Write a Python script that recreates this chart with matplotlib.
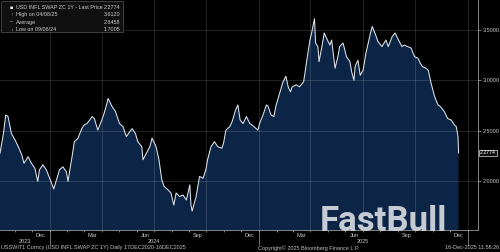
import numpy as np
import pandas as pd
import matplotlib
matplotlib.use('Agg')
import matplotlib.pyplot as plt
import matplotlib.dates as mdates
from matplotlib.transforms import blended_transform_factory

plt.rcParams['font.family'] = ['Liberation Sans', 'DejaVu Sans']

# USD inflation swap zero-coupon 1Y
dates = ['2023-10-06', '2023-10-12', '2023-10-16', '2023-10-20', '2023-10-26', '2023-11-01',
         '2023-11-07', '2023-11-13', '2023-11-17', '2023-11-24', '2023-11-30', '2023-12-06',
         '2023-12-11', '2023-12-14', '2023-12-20', '2023-12-26', '2024-01-02', '2024-01-08',
         '2024-01-12', '2024-01-18', '2024-01-24', '2024-01-30', '2024-02-02', '2024-02-06',
         '2024-02-09', '2024-02-13', '2024-02-19', '2024-02-26', '2024-03-01', '2024-03-06',
         '2024-03-11', '2024-03-15', '2024-03-19', '2024-03-25', '2024-04-01', '2024-04-05',
         '2024-04-10', '2024-04-12', '2024-04-19', '2024-04-25', '2024-05-02', '2024-05-08',
         '2024-05-14', '2024-05-20', '2024-05-24', '2024-05-30', '2024-06-03', '2024-06-10',
         '2024-06-12', '2024-06-18', '2024-06-24', '2024-06-28', '2024-07-05', '2024-07-10',
         '2024-07-15', '2024-07-19', '2024-07-26', '2024-07-31', '2024-08-05', '2024-08-09',
         '2024-08-15', '2024-08-21', '2024-08-27', '2024-09-02', '2024-09-04', '2024-09-06',
         '2024-09-13', '2024-09-19', '2024-09-25', '2024-09-30', '2024-10-03', '2024-10-09',
         '2024-10-15', '2024-10-21', '2024-10-28', '2024-10-31', '2024-11-04', '2024-11-11',
         '2024-11-15', '2024-11-21', '2024-11-25', '2024-11-29', '2024-12-04', '2024-12-10',
         '2024-12-16', '2024-12-20', '2024-12-27', '2024-12-30', '2025-01-02', '2025-01-08',
         '2025-01-14', '2025-01-17', '2025-01-22', '2025-01-27', '2025-01-31', '2025-02-06',
         '2025-02-12', '2025-02-17', '2025-02-21', '2025-02-25', '2025-02-28', '2025-03-07',
         '2025-03-13', '2025-03-20', '2025-03-24', '2025-03-31', '2025-04-03', '2025-04-08',
         '2025-04-10', '2025-04-14', '2025-04-16', '2025-04-21', '2025-04-25', '2025-04-29',
         '2025-05-05', '2025-05-08', '2025-05-14', '2025-05-19', '2025-05-22', '2025-05-28',
         '2025-06-03', '2025-06-09', '2025-06-12', '2025-06-16', '2025-06-18', '2025-06-23',
         '2025-06-27', '2025-07-02', '2025-07-07', '2025-07-11', '2025-07-15', '2025-07-18',
         '2025-07-24', '2025-07-28', '2025-08-04', '2025-08-11', '2025-08-15', '2025-08-22',
         '2025-08-27', '2025-09-02', '2025-09-08', '2025-09-12', '2025-09-18', '2025-09-24',
         '2025-09-30', '2025-10-06', '2025-10-10', '2025-10-14', '2025-10-20', '2025-10-24',
         '2025-10-29', '2025-11-04', '2025-11-10', '2025-11-14', '2025-11-21', '2025-11-27',
         '2025-12-03', '2025-12-09', '2025-12-12', '2025-12-15', '2025-12-16']
values = [2.275, 2.47, 2.655, 2.64, 2.47, 2.41,
          2.34, 2.26, 2.175, 2.24, 2.175, 2.125,
          1.995, 2.11, 2.16, 2.11, 2.01, 1.92,
          1.995, 2.11, 2.14, 2.09, 1.995, 2.14,
          2.24, 2.39, 2.42, 2.52, 2.555, 2.57,
          2.605, 2.64, 2.62, 2.505, 2.605, 2.67,
          2.77, 2.82, 2.74, 2.69, 2.57, 2.54,
          2.44, 2.49, 2.52, 2.47, 2.39, 2.34,
          2.21, 2.275, 2.34, 2.425, 2.34, 2.21,
          2.01, 1.945, 1.91, 1.88, 1.76, 1.88,
          1.845, 1.86, 1.81, 1.96, 1.76, 1.7005,
          1.845, 2.045, 2.025, 2.11, 2.21, 2.34,
          2.39, 2.34, 2.325, 2.375, 2.505, 2.54,
          2.59, 2.705, 2.755, 2.605, 2.57, 2.64,
          2.57, 2.555, 2.52, 2.505, 2.57, 2.655,
          2.755, 2.74, 2.655, 2.64, 2.755, 2.87,
          2.985, 3.04, 2.935, 2.885, 2.935, 2.955,
          2.935, 2.985, 3.135, 3.40, 3.47, 3.612,
          3.37, 3.335, 3.185, 3.335, 3.47, 3.42,
          3.35, 3.40, 3.12, 3.235, 3.335, 3.37,
          3.235, 3.185, 3.085, 3.00, 3.135, 3.20,
          3.05, 3.10, 3.27, 3.37, 3.47, 3.535,
          3.45, 3.385, 3.335, 3.40, 3.335, 3.435,
          3.47, 3.40, 3.335, 3.35, 3.335, 3.32,
          3.235, 3.22, 3.17, 3.135, 3.12, 3.10,
          2.97, 2.84, 2.755, 2.74, 2.69, 2.62,
          2.605, 2.555, 2.54, 2.44, 2.2774]

legend_rows = [('USD INFL SWAP ZC 1Y - Last Price', '2.2774'),
               ('High on 04/08/25', '3.6120'),
               ('Average', '2.6458'),
               ('Low on 09/06/24', '1.7005')]
month_labels = ['Dec', 'Mar', 'Jun', 'Sep', 'Dec', 'Mar', 'Jun', 'Sep', 'Dec']
month_pos = ['2023-12-16', '2024-03-16', '2024-06-16', '2024-09-16', '2024-12-16',
             '2025-03-16', '2025-06-16', '2025-09-16', '2025-12-16']
years = ['2023', '2024', '2025']
year_pos = ['2023-11-19', '2024-07-01', '2025-07-02']
year_bounds = ['2024-01-01', '2025-01-01', '2026-01-01']
yticks = [2.0, 2.5, 3.0, 3.5]

x = pd.to_datetime(dates)
y = np.array(values)

fig = plt.figure(figsize=(5, 2.52), dpi=100)
fig.patch.set_facecolor('black')
ax = fig.add_axes([0, 22 / 252, 478 / 500, 1 - 22 / 252])
ax.set_facecolor('black')

fill_col = '#0c2546'
ax.fill_between(x, y, 1.0, color=fill_col, lw=0, zorder=1)
ax.plot(x, y, color='#dfe3ea', lw=0.75, zorder=3)

ax.set_ylim(1.512, 3.798)
ax.set_xlim(pd.Timestamp('2023-10-06'), pd.Timestamp('2026-01-19'))

# grid
for v in yticks:
    ax.axhline(v, color='white', alpha=0.16, lw=0.6, zorder=2)
qs = pd.date_range('2024-01-01', '2026-01-01', freq='QS')
for q in qs:
    ax.axvline(q, color='white', alpha=0.16, lw=0.6, zorder=2)

for s in ['top', 'left']:
    ax.spines[s].set_visible(False)
for s in ['bottom', 'right']:
    ax.spines[s].set_color('#9a9a9a')
    ax.spines[s].set_linewidth(0.6)

ax.yaxis.tick_right()
ax.set_yticks(yticks)
ax.set_yticklabels(['%.4f' % v for v in yticks])
ax.tick_params(axis='y', colors='#9a9a9a', labelcolor='#c8c8c8', labelsize=4.0,
               length=2.5, width=0.6, pad=1)

# month ticks on bottom axis
ax.set_xticks(pd.date_range('2023-11-01', '2026-01-01', freq='MS'))
ax.set_xticklabels([])
ax.tick_params(axis='x', colors='#9a9a9a', length=1.5, width=0.5)

trans = blended_transform_factory(ax.transData, ax.transAxes)
for lab, p in zip(month_labels, month_pos):
    ax.text(pd.Timestamp(p), -0.022, lab, transform=trans, ha='center', va='center',
            fontsize=4.0, color='#c8c8c8', clip_on=False)
for lab, p in zip(years, year_pos):
    ax.text(pd.Timestamp(p), -0.049, lab, transform=trans, ha='center', va='center',
            fontsize=4.0, color='#c8c8c8', clip_on=False)
for b in year_bounds:
    ax.plot([pd.Timestamp(b)] * 2, [0, -0.065], transform=trans, color='#9a9a9a',
            lw=0.5, clip_on=False)

# legend box top left
ax.add_patch(plt.Rectangle((0.002, 0.862), 0.255, 0.135, transform=ax.transAxes,
                           facecolor='#101010', edgecolor='#555555', lw=0.5, zorder=5))
markers = ['\u25a0', '\u2191', '\u2013', '\u2193']
for i, (lab, val) in enumerate(legend_rows):
    yy = 0.968 - i * 0.032
    ax.text(0.024, yy, markers[i], transform=ax.transAxes, fontsize=3.8,
            color='white' if i == 0 else '#bbbbbb', ha='center', va='center', zorder=6)
    ax.text(0.033, yy, lab, transform=ax.transAxes, fontsize=3.9, color='#d0d0d0',
            ha='left', va='center', zorder=6)
    ax.text(0.252, yy, val, transform=ax.transAxes, fontsize=3.9, color='#d0d0d0',
            ha='right', va='center', zorder=6)

# last price tag
ax.annotate('%.4f' % values[-1], xy=(1.0, values[-1]), xycoords=('axes fraction', 'data'),
            xytext=(1.5, 0), textcoords='offset points', ha='left', va='center',
            fontsize=3.8, color='white', annotation_clip=False,
            bbox=dict(boxstyle='square,pad=0.15', fc='#111111', ec='#dddddd', lw=0.5))

# watermark
fig.text(320 / 500, 1 - 231 / 252, 'FastBull', fontsize=25, fontweight='bold', family='Roboto',
         color='#c6cbd3', ha='left', va='baseline', zorder=10)

# footer
fig.text(0.002, 0.016, 'USSWIT1 Curncy (USD INFL SWAP ZC 1Y) Daily 17DEC2020-16DEC2025',
         fontsize=4.0, color='#c0c0c0', ha='left', va='center')
fig.text(0.516, 0.016, 'Copyright\u00a9 2025 Bloomberg Finance L.P.',
         fontsize=4.0, color='#c0c0c0', ha='left', va='center')
fig.text(0.999, 0.016, '16-Dec-2025 11:56:26', fontsize=4.0, color='#c0c0c0',
         ha='right', va='center')

fig.savefig('out.png', dpi=100, facecolor='black')
